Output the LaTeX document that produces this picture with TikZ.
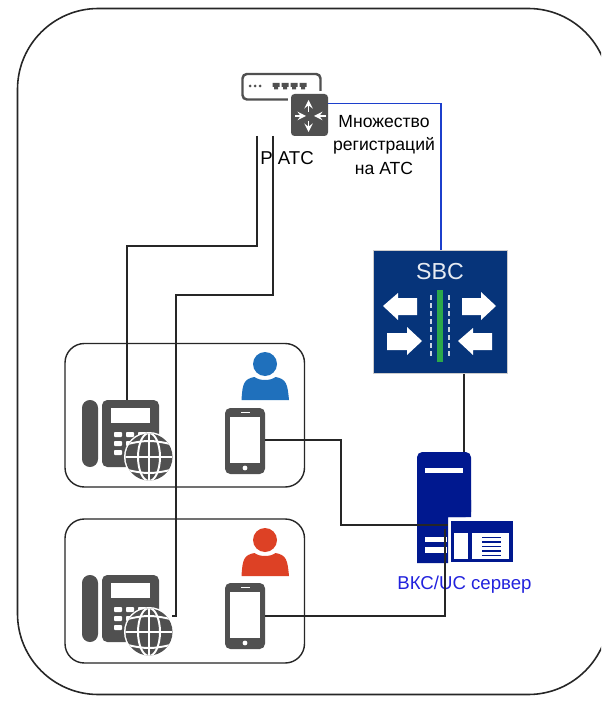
\documentclass[tikz,border=0pt]{standalone}
\usepackage{fontspec}
\setmainfont{Liberation Sans}
\definecolor{icongray}{HTML}{505050}
\definecolor{sbcblue}{HTML}{06347A}
\definecolor{sbcgreen}{HTML}{2CA84A}
\definecolor{srvblue}{HTML}{00188F}
\definecolor{userblue}{HTML}{1F70BC}
\definecolor{userred}{HTML}{DD4125}
\definecolor{labelblue}{HTML}{2222DD}
\definecolor{linkblue}{HTML}{1C3FCC}
\tikzset{
  conn/.style={black!85, line width=0.9pt},
  link/.style={linkblue, line width=0.9pt},
  zone/.style={draw=black!85, line width=0.8pt, rounded corners=11pt},
  lbl/.style={font=\fontsize{10.6}{13.4}\selectfont, align=center}
}
\newcommand{\deskphone}[2]{%
  \begin{scope}[shift={(#1,#2)}]
    \fill[icongray, rounded corners=4.5pt] (0,0) rectangle (16,67);
    \fill[icongray, rounded corners=3pt] (20,0) rectangle (77,67);
    \fill[white] (29,8) rectangle (68,23);
    \foreach \kx in {32,44,56} \foreach \ky in {32,41,50}
      \fill[white, rounded corners=0.5pt] (\kx,\ky) rectangle +(8,5);
    \fill[white] (67,57) circle (25);
    \fill[icongray] (67,57) circle (23.5);
    \begin{scope}
      \clip (67,57) circle (23.5);
      \draw[white, line width=1.1pt] (67,33) -- (67,81);
      \draw[white, line width=1.1pt] (43,57) -- (91,57);
      \draw[white, line width=1.1pt] (67,57) ellipse (11 and 24);
      \draw[white, line width=1.1pt] (46,44) to[bend left=14] (88,44);
      \draw[white, line width=1.1pt] (46,70) to[bend right=14] (88,70);
    \end{scope}
  \end{scope}}
\newcommand{\mobile}[2]{%
  \begin{scope}[shift={(#1,#2)}]
    \fill[icongray, rounded corners=3pt] (0,0) rectangle (40,66);
    \fill[white] (5,9) rectangle (35,55);
    \fill[white] (15.5,3.5) rectangle (24.5,5);
    \fill[white] (20,60) circle (2.4);
  \end{scope}}
\newcommand{\person}[3]{%
  \begin{scope}[shift={(#1,#2)}]
    \fill[#3] (23.5,12) circle (12);
    \fill[#3] (0,48) .. controls (1,32) and (2,27) .. (13,25) .. controls (18,29) and (29,29) .. (34,25) .. controls (45,27) and (46,32) .. (47.5,48) -- cycle;
  \end{scope}}
\begin{document}
\begin{tikzpicture}[x=0.02cm,y=-0.02cm]
  \useasboundingbox (0,0) rectangle (601,709);
  \fill[white] (0,0) rectangle (601,709);
  % outer frame
  \begin{scope}
    \clip (0,0) rectangle (601,709);
    \draw[black!85, line width=0.9pt, rounded corners=46pt] (17.5,8.5) rectangle (609,694.5);
  \end{scope}

  % groups
  \draw[zone] (65,343.5) rectangle (304.5,487);
  \draw[zone] (65,519) rectangle (304.5,663);

  % PBX icon
  \draw[icongray, line width=1.4pt, rounded corners=2.5pt] (242.5,99.5) -- (242.5,74) -- (320.5,74) -- (320.5,99.5) -- cycle;
  \foreach \px in {250,255,260} \fill[icongray] (\px,86) circle (1.5);
  \foreach \px in {276,285,294,303} \fill[icongray] (\px-3.5,83) rectangle (\px+3.5,87) (\px-2,87) rectangle (\px+2,89.5);
  \fill[white] (288,91) rectangle (331,139);
  \fill[icongray, rounded corners=2pt] (291,94) rectangle (328,136);
  \begin{scope}[white, line width=1.1pt, -stealth]
    \draw (308.5,112) -- (308.5,100);
    \draw (308.5,121) -- (308.5,132);
    \draw (295,116) -- (306,116);
    \draw (326,116) -- (314,116);
  \end{scope}

  % SBC
  \node[fill=sbcblue, draw=black!20, line width=0.5pt, minimum width=2.68cm, minimum height=2.46cm, anchor=north west, inner sep=0pt] (sbc) at (373,250) {};
  \node[text=white!90!sbcblue, font=\fontsize{13.2}{16}\selectfont] (sbclabel) at (440,272) {SBC};
  \fill[sbcgreen] (437,290) rectangle (443,362);
  \foreach \ly in {295,303,...,351} {
    \fill[white!80!sbcblue] (429.5,\ly) rectangle (432,\ly+5);
    \fill[white!80!sbcblue] (447.5,\ly) rectangle (450,\ly+5);
  }
  \fill[white] (383,306) -- (398,293) -- (398,298) -- (417,298) -- (417,315) -- (398,315) -- (398,320) -- cycle;
  \fill[white] (496,306) -- (481,292) -- (481,298) -- (462,298) -- (462,315) -- (481,315) -- (481,320) -- cycle;
  \fill[white] (422,341) -- (407,327) -- (407,333) -- (387,333) -- (387,350) -- (407,350) -- (407,355) -- cycle;
  \fill[white] (458,341) -- (473,328) -- (473,333) -- (492,333) -- (492,350) -- (473,350) -- (473,355) -- cycle;

  % end devices
  \deskphone{82}{400}
  \deskphone{82}{575}
  \mobile{225}{408}
  \mobile{225}{583}
  \person{241.5}{352}{userblue}
  \person{241.5}{528}{userred}

  % server
  \fill[srvblue, rounded corners=3pt] (417,500) -- (417,452) -- (471,452) -- (471,517) -- (448,517);
  \fill[srvblue] (417,500) rectangle (448,563) (448,500) rectangle (471,517);
  \fill[white] (425,468) rectangle (463,473);
  \fill[white] (425,537) rectangle (447,542);
  \fill[white] (425,547) rectangle (447,552.5);
  \fill[srvblue] (451,521) rectangle (513,562);
  \fill[white] (454,533) rectangle (468,559);
  \fill[white] (472,533) rectangle (509,559);
  \foreach \ly in {537.5,542,546.5,551,555.5} \fill[srvblue] (482,\ly-0.9) rectangle (501,\ly+0.9);

  % connection points
  \coordinate (pbxout) at (328,103.5);
  \coordinate (sbctop) at (441,250);
  \coordinate (sbcbot) at (464,374);
  \coordinate (srvtop) at (464,452);
  \coordinate (pbxa) at (257,136);
  \coordinate (pbxb) at (273,136);
  \coordinate (phonea) at (127,400);
  \coordinate (phoneb) at (172,616);
  \coordinate (mobilea) at (265,440);
  \coordinate (mobileb) at (265,616);
  \coordinate (srvin) at (448,525);
  \coordinate (srvinb) at (445,529);

  % labels
  \node[lbl] (pbxlabel) at (287,158) {Р АТС};
  \node[lbl, font=\fontsize{10}{13.4}\selectfont] (reglabel) at (384,145) {Множество\\регистраций\\на АТС};
  \node[lbl, text=labelblue] (srvlabel) at (464.5,585) {ВКС/UC сервер};

  \draw[link] (pbxout) -| (sbctop);
  \draw[conn] (sbcbot) -- (srvtop);
  \draw[conn] (pbxa) |- (127,246) -- (phonea);
  \draw[conn] (pbxb) |- (176,295) -- (176,616) -- (phoneb);
  \draw[conn] (mobilea) -| (341,525) -- (srvin);
  \draw[conn] (mobileb) -| (srvinb);
\end{tikzpicture}
\end{document}
